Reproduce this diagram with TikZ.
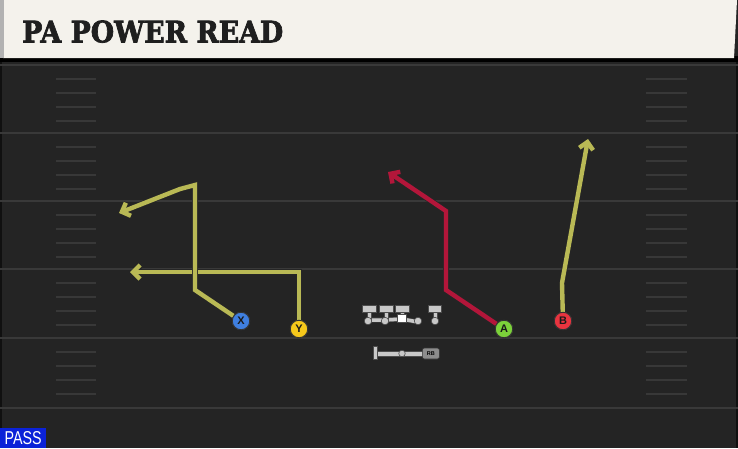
\documentclass[tikz,border=0pt]{standalone}
\usepackage{fontspec}
\usepackage{graphicx}
\usetikzlibrary{arrows.meta}
\newfontfamily\titlefont{DejaVu Serif}[FakeBold=2.5]
\newfontfamily\lblfont{Liberation Sans}
\definecolor{field}{HTML}{242424}
\definecolor{yardline}{HTML}{393939}
\definecolor{hash}{HTML}{383838}
\definecolor{header}{HTML}{F4F2EC}
\definecolor{routeY}{HTML}{B9B955}
\definecolor{routeR}{HTML}{B3163A}
\definecolor{pX}{HTML}{3F7FE0}
\definecolor{pY}{HTML}{F6C81B}
\definecolor{pA}{HTML}{7CD23A}
\definecolor{pB}{HTML}{E8343F}
\definecolor{passblue}{HTML}{0B22D8}
\definecolor{lineman}{HTML}{C8C8C8}
\begin{document}
\begin{tikzpicture}[x=1pt,y=-1pt,
  route/.style={line width=4.4pt, line join=miter, preaction={draw=black!85, line width=5.8pt}},
  tipstyle/.style={-{Straight Barb[length=7pt,width=14pt]}},
  player/.style={circle, draw=black!80, line width=0.9pt, minimum size=17.5pt, inner sep=0pt,
    font=\lblfont\bfseries\fontsize{11}{11}\selectfont, text=black!90},
  yard/.style={draw=yardline, line width=2pt},
  hashmark/.style={draw=hash, line width=2pt},
  lm/.style={draw=black!70, fill=lineman, line width=0.7pt},
  lmline/.style={draw=lineman, line width=3.5pt, preaction={draw=black!70, line width=4.6pt}},
  lmdot/.style={circle, fill=lineman, draw=black!70, line width=0.6pt, inner sep=0pt, minimum size=7.5pt}
]
\useasboundingbox (0,0) rectangle (738,448);
% field
\fill[field] (0,0) rectangle (738,448);
\draw[black!55!field, line width=1.5pt] (1,62) -- (1,448);
\draw[black!55!field, line width=1.5pt] (737,62) -- (737,448);
% yard lines
\foreach \y in {65,133,201,269,338,408}
  \draw[yard] (0,\y) -- (738,\y);
% hash marks
\foreach \b in {65,133,201,269,338}
  \foreach \d in {14,28,42,56} {
    \draw[hashmark] (56,\b+\d) -- (96,\b+\d);
    \draw[hashmark] (646,\b+\d) -- (687,\b+\d);
  }
% header
\fill[black] (0,56) rectangle (738,62);
\fill[header] (3,0) -- (737,0) -- (734,58) -- (3,58) -- cycle;
\fill[black!30] (0,0) rectangle (4,58);
\node[anchor=south west, inner sep=0pt, text=black!88] (title) at (22,43)
  {\resizebox{261pt}{22pt}{\titlefont\bfseries PA POWER READ}};
% PASS tag
\node[anchor=south west, fill=passblue, minimum width=46pt, minimum height=20pt, inner sep=0pt] (pass) at (0,448)
  {\resizebox{37pt}{13pt}{\lblfont\color{white}PASS}};

% offensive line
\draw[lmline] (368,320) -- (385,320) -- (402,319) -- (418,322);
\foreach \x/\w in {369/7,386/7,402/7,435/6.5} {
  \draw[lm] (\x-1.9,311) rectangle (\x+1.9,320);
  \draw[lm] (\x-\w,305.5) rectangle (\x+\w,312);
}
\node[lmdot] (lm1) at (368,321) {};
\node[lmdot] (lm2) at (385,321) {};
\node[lmdot] (lm4) at (418,321) {};
\node[lmdot] (lm5) at (435,321) {};
\node[draw=black!70, fill=white, line width=0.6pt, minimum size=8.5pt, inner sep=0pt] (center) at (402,318.5) {};
% running back
\draw[lm] (373.5,346.5) rectangle (377.5,359.5);
\draw[lm] (377.5,351) rectangle (423,356);
\node[lmdot, minimum size=6.5pt] (rbdot) at (402,353.5) {};
\node[draw=black!80, fill=black!45, line width=0.7pt, rounded corners=2pt, minimum width=17pt, minimum height=11pt,
  inner sep=0pt, anchor=west, font=\lblfont\bfseries\fontsize{5.5}{5.5}\selectfont, text=black] (rb) at (422,353.5) {RB};

% players
\node[player, fill=pX] (X) at (241,321) {X};
\node[player, fill=pY] (Y) at (299,329) {Y};
\node[player, fill=pA] (A) at (504,329) {A};
\node[player, fill=pB] (B) at (563,321) {B};

% route points
\coordinate (x1) at (195,290);
\coordinate (x2) at (195,185);
\coordinate (x3) at (180,189);
\coordinate (xe) at (119,213);
\coordinate (y1) at (299,272);
\coordinate (ye) at (130,272);
\coordinate (a1) at (446,290);
\coordinate (a2) at (446,211);
\coordinate (ae) at (388,172);
\coordinate (b1) at (562,283);
\coordinate (be) at (588,139);

% routes
\draw[route, routeY, tipstyle] (Y) -- (y1) -- (ye);
\draw[route, routeY, tipstyle] (X) -- (x1) -- (x2) -- (x3) -- (xe);
\draw[route, routeR, tipstyle] (A) -- (a1) -- (a2) -- (ae);
\draw[route, routeY, tipstyle] (B) -- (b1) -- (be);
% redraw players on top
\node[player, fill=pX] at (X) {X};
\node[player, fill=pY] at (Y) {Y};
\node[player, fill=pA] at (A) {A};
\node[player, fill=pB] at (B) {B};
\end{tikzpicture}
\end{document}
